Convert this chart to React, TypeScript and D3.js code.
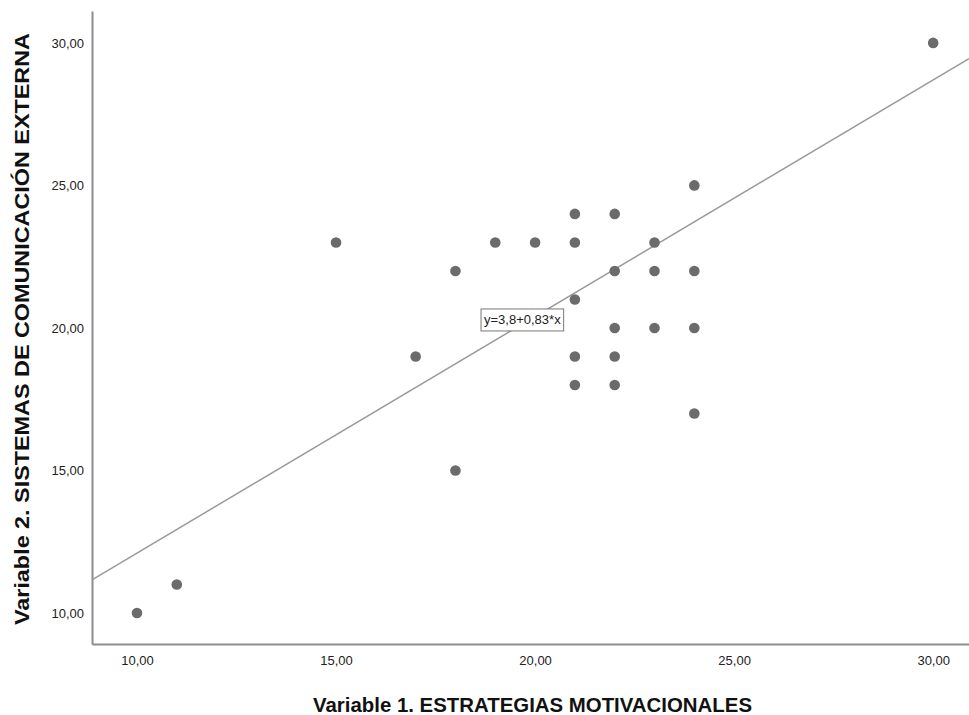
import React, { useEffect, useRef } from 'react'
import { axisBottom, axisLeft, line, scaleLinear, select } from 'd3'

// Datos
const xVals = [10, 11, 15, 17, 18, 18, 19, 20, 21, 21, 21, 21, 21, 22, 22, 22, 22, 22, 23, 23, 23, 24, 24, 24, 24, 30]
const yVals = [10, 11, 23, 19, 22, 15, 23, 23, 24, 23, 21, 19, 18, 24, 22, 20, 19, 18, 23, 22, 20, 25, 22, 20, 17, 30]
const xTicks = [10, 15, 20, 25, 30]
const yTicks = [10, 15, 20, 25, 30]
const intercept = 3.8
const slope = 0.83
const fitLabel = 'y=3,8+0,83*x'
const xTitle = 'Variable 1. ESTRATEGIAS MOTIVACIONALES'
const yTitle = 'Variable 2. SISTEMAS DE COMUNICACIÓN EXTERNA'

const W = 969
const H = 715
const FONT = '"Liberation Sans", Arial, sans-serif'

const App = () => {
    const svgRef = useRef<SVGSVGElement>(null)

    useEffect(() => {
        const svg = select(svgRef.current)
        svg.selectAll('*').remove()

        const left = 92, right = W, top = 11, bottom = 644

        const xScale = scaleLinear().domain([8.87, 30.9]).range([left, right])
        const yScale = scaleLinear().domain([8.91, 31.12]).range([bottom, top])

        const fmt = (d: any) => d.toFixed(2).replace('.', ',')

        // ejes
        const gx = svg.append('g').attr('transform', `translate(0,${bottom})`)
            .call(axisBottom(xScale).tickValues(xTicks).tickSize(0).tickPadding(12).tickFormat(fmt))
        const gy = svg.append('g').attr('transform', `translate(${left},0)`)
            .call(axisLeft(yScale).tickValues(yTicks).tickSize(0).tickPadding(8).tickFormat(fmt))
        ;[gx, gy].forEach(g => {
            g.select('.domain').attr('stroke', '#8c8c8c').attr('stroke-width', 2)
            g.selectAll('text').attr('font-family', FONT).attr('font-size', 13).attr('fill', '#222')
        })

        // recta de regresión
        const dom = xScale.domain()
        const fit = line<number>().x(d => xScale(d)).y(d => yScale(intercept + slope * d))
        svg.append('path')
            .attr('d', fit(dom))
            .attr('fill', 'none')
            .attr('stroke', '#9a9a9a')
            .attr('stroke-width', 1.5)

        // puntos
        svg.append('g').selectAll('circle')
            .data(xVals.map((x, i) => [x, yVals[i]]))
            .join('circle')
            .attr('cx', d => xScale(d[0]))
            .attr('cy', d => yScale(d[1]))
            .attr('r', 5.3)
            .attr('fill', '#6b6b6b')

        // etiqueta de la ecuación
        const lx = xScale(19.68), ly = yScale(20.28)
        const lab = svg.append('g')
        const rect = lab.append('rect')
        const txt = lab.append('text')
            .attr('x', lx).attr('y', ly)
            .attr('text-anchor', 'middle')
            .attr('dominant-baseline', 'central')
            .attr('font-family', FONT).attr('font-size', 13)
            .attr('fill', '#222')
            .text(fitLabel)
        const tw = (txt.node() as SVGTextElement).getComputedTextLength()
        rect.attr('x', lx - tw / 2 - 3).attr('y', ly - 11)
            .attr('width', tw + 6).attr('height', 22)
            .attr('fill', '#fff').attr('stroke', '#777').attr('stroke-width', 1)

        // títulos
        svg.append('text')
            .attr('x', 532.5).attr('y', 712)
            .attr('text-anchor', 'middle')
            .attr('font-family', FONT).attr('font-size', 20).attr('font-weight', 'bold')
            .attr('textLength', 439).attr('lengthAdjust', 'spacingAndGlyphs')
            .attr('fill', '#111')
            .text(xTitle)
        svg.append('text')
            .attr('transform', `translate(29,329) rotate(-90)`)
            .attr('text-anchor', 'middle')
            .attr('font-family', FONT).attr('font-size', 20).attr('font-weight', 'bold')
            .attr('textLength', 592).attr('lengthAdjust', 'spacingAndGlyphs')
            .attr('fill', '#111')
            .text(yTitle)
    }, [])

    return (
        <svg ref={svgRef} width={W} height={H}
            style={{ position: 'absolute', left: 0, top: 0, background: '#fff' }} />
    )
}

export default App
